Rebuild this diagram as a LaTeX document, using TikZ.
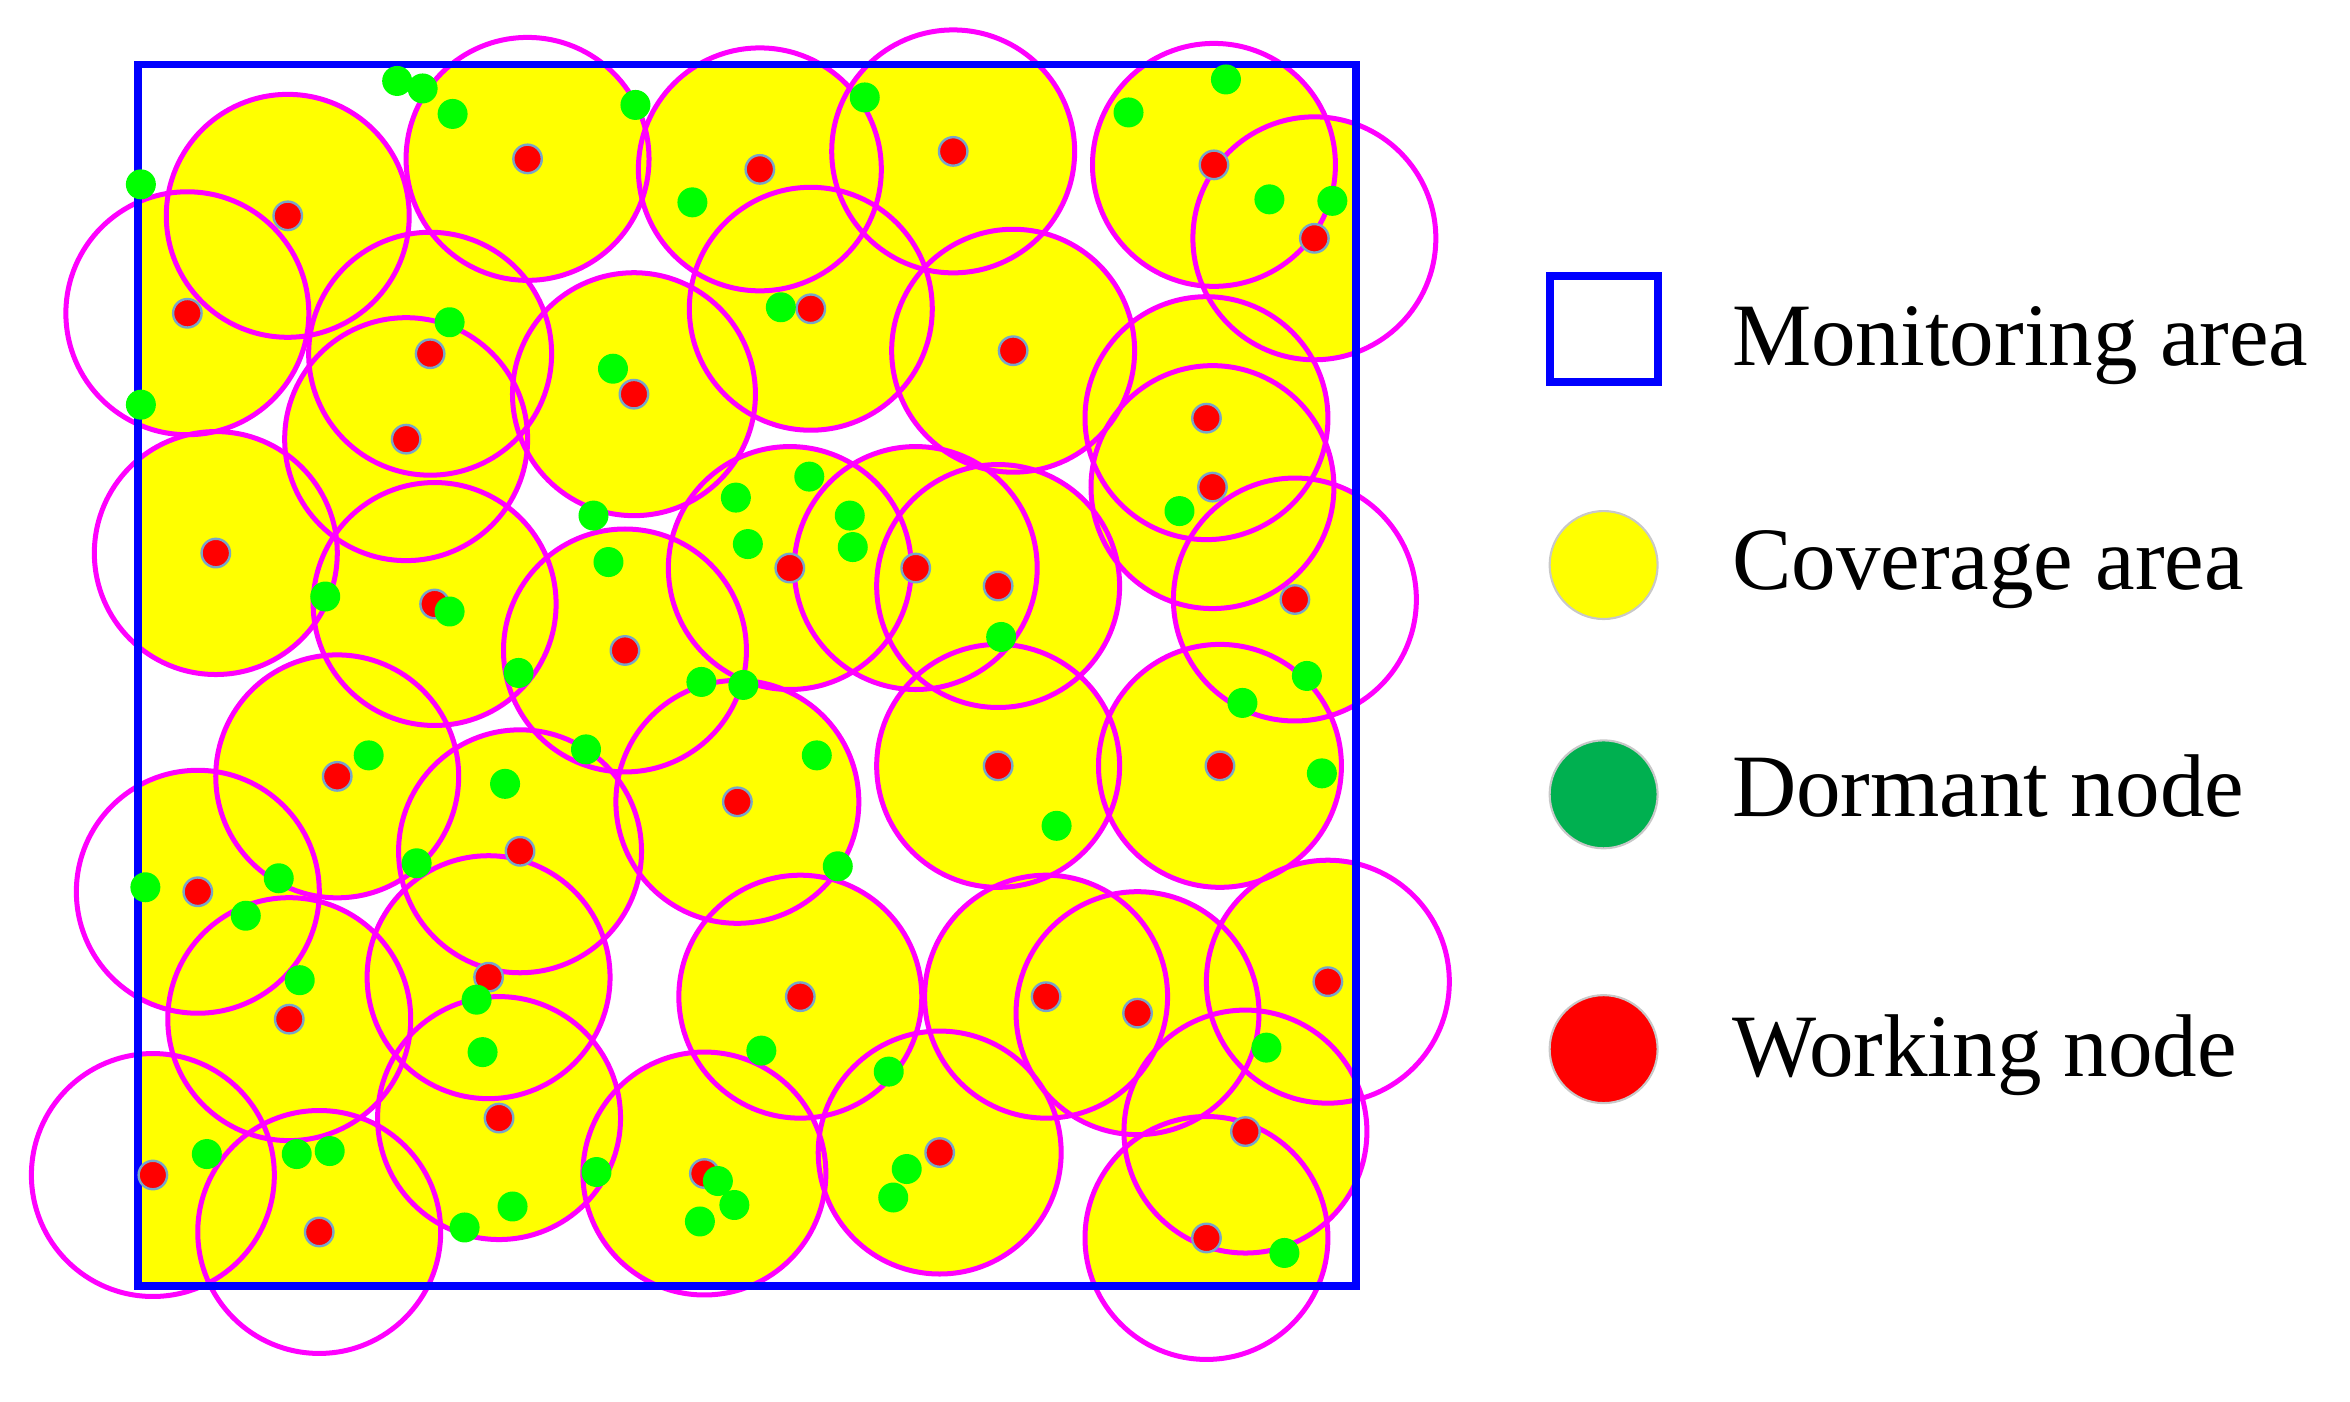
\documentclass[tikz,border=0pt]{standalone}
\usepackage{fontspec}
\setmainfont{Liberation Serif}
\definecolor{covyellow}{RGB}{255,255,0}
\definecolor{ringmag}{RGB}{255,0,255}
\definecolor{areablue}{RGB}{0,0,255}
\definecolor{dotgreen}{RGB}{0,255,0}
\definecolor{dotred}{RGB}{255,0,0}
\definecolor{haloblue}{RGB}{120,165,200}
\definecolor{legendgreen}{RGB}{0,176,80}
\definecolor{legendgray}{RGB}{200,200,200}
\begin{document}
\begin{tikzpicture}[x=0.01cm,y=-0.01cm,
  cov/.style={fill=covyellow},
  ring/.style={draw=ringmag,line width=0.95pt},
  work/.style={fill=dotred,draw=haloblue,line width=0.45pt},
  dorm/.style={fill=dotgreen},
  lbl/.style={anchor=base west,inner sep=0pt,font=\fontsize{16.9pt}{20pt}\selectfont}]
\useasboundingbox (0,0) rectangle (1568,935);
\def\redlist{192/144, 352/106, 507/113, 636/101, 810/110, 877/159, 125/209, 287/236,
  541/206, 676/234, 423/263, 271/293, 805/279, 809/325, 144/369, 527/379, 611/379,
  666/391, 290/403, 864/400, 417/434, 225/518, 492/535, 666/511, 814/511, 347/568,
  132/595, 326/652, 193/680, 534/665, 698/665, 759/676, 886/655, 333/746, 831/755,
  627/769, 102/784, 470/783, 213/822, 805/826}
\def\greenlist{265/54, 282/59, 302/76, 424/70, 577/65, 818/53, 753/75, 94/123, 462/135,
  847/133, 889/134, 300/215, 521/205, 409/246, 94/270, 491/332, 540/318, 567/344,
  569/365, 499/363, 396/344, 406/375, 300/408, 217/398, 668/425, 787/341, 346/449,
  468/455, 496/457, 872/451, 829/469, 391/500, 246/504, 545/504, 337/523, 882/516,
  705/551, 559/578, 278/576, 186/586, 97/592, 164/611, 200/654, 318/667, 322/702,
  508/701, 593/715, 845/699, 138/770, 198/770, 220/768, 398/782, 479/788, 490/804,
  467/815, 605/780, 596/799, 342/805, 310/819, 857/836}
% coverage areas, filled only inside the monitoring area
\begin{scope}
  \clip (92,43) rectangle (905,858);
  \foreach \x/\y in \redlist {\fill[cov] (\x,\y) circle[radius=0.81cm];}
\end{scope}
% sensing ranges
\foreach \x/\y in \redlist {\draw[ring] (\x,\y) circle[radius=0.81cm];}
% monitoring area
\draw[areablue,line width=1.5pt] (92,43) rectangle (905,858);
% working and dormant nodes
\foreach \x/\y in \redlist {\filldraw[work] (\x,\y) circle[radius=0.095cm];}
\foreach \x/\y in \greenlist {\fill[dorm] (\x,\y) circle[radius=0.1cm];}
% legend
\draw[areablue,line width=1.5pt] (1034,184) rectangle (1106,255);
\filldraw[fill=covyellow,draw=legendgray,line width=0.4pt] (1070,377) circle[radius=0.36cm];
\filldraw[fill=legendgreen,draw=legendgray,line width=0.4pt] (1070,530) circle[radius=0.36cm];
\filldraw[fill=dotred,draw=legendgray,line width=0.4pt] (1070,700) circle[radius=0.36cm];
\node[lbl] (lmon) at (1155,244) {Monitoring area};
\node[lbl] (lcov) at (1155,393) {Coverage area};
\node[lbl] (ldor) at (1155,545) {Dormant node};
\node[lbl] (lwor) at (1155,718) {Working node};
\end{tikzpicture}
\end{document}
